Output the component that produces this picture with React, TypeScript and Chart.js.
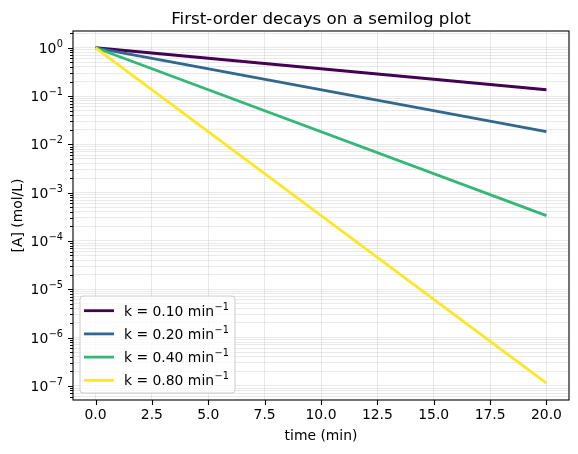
import React, { useEffect, useRef } from 'react';
import { Chart, registerables } from 'chart.js';

Chart.register(...registerables);

// ---- data ----
const TIMES = [0, 20];
const CONC_K010 = [1, 0.135];
const CONC_K020 = [1, 0.0183];
const CONC_K040 = [1, 3.35e-4];
const CONC_K080 = [1, 1.13e-7];
const SERIES_LABELS = ['k = 0.10 min⁻¹', 'k = 0.20 min⁻¹', 'k = 0.40 min⁻¹', 'k = 0.80 min⁻¹'];
const LEGEND_BASE = ['k = 0.10 min', 'k = 0.20 min', 'k = 0.40 min', 'k = 0.80 min'];
const LEGEND_EXP = ['−1', '−1', '−1', '−1'];
const SERIES_COLORS = ['#440154', '#31688e', '#35b779', '#fde725'];
const X_TICKS = [0, 2.5, 5, 7.5, 10, 12.5, 15, 17.5, 20];
const Y_MIN = Math.pow(10, -7.294);
const Y_MAX = Math.pow(10, 0.347);
const TITLE = 'First-order decays on a semilog plot';
const X_LABEL = 'time (min)';
const Y_LABEL = '[A] (mol/L)';

const FONT = "'DejaVu Sans', sans-serif";
const BASE_SIZE = 13.9;
const EXP_SIZE = 9.7;

const isMajor = (v: number) => {
  const l = Math.log10(v);
  return Math.abs(l - Math.round(l)) < 1e-6;
};

function drawSup(ctx: CanvasRenderingContext2D, base: string, exp: string, x: number, baseline: number, align: 'left' | 'right') {
  ctx.textBaseline = 'alphabetic';
  ctx.textAlign = 'left';
  ctx.font = `${BASE_SIZE}px ${FONT}`;
  const wb = ctx.measureText(base).width;
  ctx.font = `${EXP_SIZE}px ${FONT}`;
  const we = ctx.measureText(exp).width;
  const x0 = align === 'left' ? x : x - wb - we - 0.5;
  ctx.font = `${BASE_SIZE}px ${FONT}`;
  ctx.fillText(base, x0, baseline);
  ctx.font = `${EXP_SIZE}px ${FONT}`;
  ctx.fillText(exp, x0 + wb + 0.5, baseline - 6);
}

const decorPlugin = {
  id: 'decor',
  afterDraw(chart: any) {
    const { ctx, chartArea } = chart;
    const { left, right, top, bottom } = chartArea;
    const xs = chart.scales.x;
    const ys = chart.scales.y;
    ctx.save();
    // frame
    ctx.strokeStyle = '#000';
    ctx.lineWidth = 1.1;
    ctx.strokeRect(left, top, right - left, bottom - top);
    // x ticks
    ctx.beginPath();
    for (const t of xs.ticks) {
      const px = Math.round(xs.getPixelForValue(t.value)) + 0.5;
      ctx.moveTo(px, bottom);
      ctx.lineTo(px, bottom + 5);
    }
    // y ticks
    for (const t of ys.ticks) {
      const py = Math.round(ys.getPixelForValue(t.value)) + 0.5;
      const len = isMajor(t.value) ? 5 : 3;
      ctx.moveTo(left, py);
      ctx.lineTo(left - len, py);
    }
    ctx.stroke();

    // y tick labels (10^n)
    ctx.fillStyle = '#000';
    for (const t of ys.ticks) {
      if (!isMajor(t.value)) continue;
      const py = ys.getPixelForValue(t.value);
      const e = Math.round(Math.log10(t.value));
      const es = e < 0 ? '−' + String(-e) : String(e);
      drawSup(ctx, '10', es, left - 10, py + 5, 'right');
    }

    // title
    ctx.fillStyle = '#000';
    ctx.textAlign = 'center';
    ctx.textBaseline = 'alphabetic';
    ctx.font = `16.7px ${FONT}`;
    const cx = (left + right) / 2;
    ctx.fillText(TITLE, cx, 23.5);
    // x label
    ctx.font = `${BASE_SIZE}px ${FONT}`;
    ctx.fillText(X_LABEL, cx, 440);
    // y label
    ctx.save();
    ctx.translate(22, (top + bottom) / 2);
    ctx.rotate(-Math.PI / 2);
    ctx.fillText(Y_LABEL, 0, 0);
    ctx.restore();

    // legend
    const bx = 80, by = 296, bw = 155, bh = 97, r = 3;
    ctx.beginPath();
    ctx.moveTo(bx + r, by);
    ctx.arcTo(bx + bw, by, bx + bw, by + bh, r);
    ctx.arcTo(bx + bw, by + bh, bx, by + bh, r);
    ctx.arcTo(bx, by + bh, bx, by, r);
    ctx.arcTo(bx, by, bx + bw, by, r);
    ctx.closePath();
    ctx.fillStyle = 'rgba(255,255,255,0.8)';
    ctx.fill();
    ctx.strokeStyle = '#cccccc';
    ctx.lineWidth = 1;
    ctx.stroke();
    chart.data.datasets.forEach((ds: any, i: number) => {
      const ry = 310.7 + i * 23.2;
      ctx.beginPath();
      ctx.strokeStyle = ds.borderColor;
      ctx.lineWidth = 2.8;
      ctx.moveTo(84, ry);
      ctx.lineTo(114, ry);
      ctx.stroke();
      ctx.fillStyle = '#000';
      drawSup(ctx, LEGEND_BASE[i], LEGEND_EXP[i], 124, ry + 4.8, 'left');
    });
    ctx.restore();
  },
};

export default function App() {
  const ref = useRef<HTMLCanvasElement | null>(null);
  useEffect(() => {
    document.body.style.margin = '0';
    if (!ref.current) return;
    const seriesValues = [CONC_K010, CONC_K020, CONC_K040, CONC_K080];
    const chart = new Chart(ref.current, {
      type: 'line',
      data: {
        datasets: seriesValues.map((vals, i) => ({
          label: SERIES_LABELS[i],
          data: TIMES.map((t, j) => ({ x: t, y: vals[j] })),
          borderColor: SERIES_COLORS[i],
          backgroundColor: SERIES_COLORS[i],
          borderWidth: 2.8,
          pointRadius: 0,
          tension: 0,
          fill: false,
          order: 3 - i,
        })),
      },
      options: {
        responsive: false,
        animation: false,
        layout: { padding: { top: 31, right: 9, left: 0, bottom: 0 } },
        plugins: { legend: { display: false }, title: { display: false }, tooltip: { enabled: false } },
        scales: {
          x: {
            type: 'linear',
            min: -1,
            max: 21,
            afterBuildTicks: (s: any) => {
              s.ticks = X_TICKS.map((v) => ({ value: v }));
            },
            afterFit: (s: any) => {
              s.height = 54;
            },
            ticks: {
              autoSkip: false,
              maxRotation: 0,
              padding: 7,
              color: '#000',
              font: { family: FONT, size: BASE_SIZE },
              callback: (v: any) => Number(v).toFixed(1),
            },
            grid: { color: 'rgba(176,176,176,0.35)', lineWidth: 0.8, drawTicks: false },
            border: { display: false },
          },
          y: {
            type: 'logarithmic',
            min: Y_MIN,
            max: Y_MAX,
            afterBuildTicks: (s: any) => {
              const ticks: any[] = [];
              for (let e = -8; e <= 0; e++) {
                for (let m = 1; m <= 9; m++) {
                  const v = m * Math.pow(10, e);
                  if (v >= Y_MIN && v <= Y_MAX) ticks.push({ value: v, major: m === 1 });
                }
              }
              s.ticks = ticks;
            },
            afterFit: (s: any) => {
              s.width = 73;
            },
            ticks: {
              autoSkip: false,
              padding: 10,
              color: '#000',
              font: { family: FONT, size: BASE_SIZE },
              callback: () => '',
            },
            grid: { color: 'rgba(176,176,176,0.35)', lineWidth: 0.8, drawTicks: false },
            border: { display: false },
          },
        },
      },
      plugins: [decorPlugin],
    });
    return () => chart.destroy();
  }, []);
  return (
    <div style={{ width: 578, height: 454 }}>
      <canvas ref={ref} width={578} height={454} style={{ display: 'block' }} />
    </div>
  );
}
